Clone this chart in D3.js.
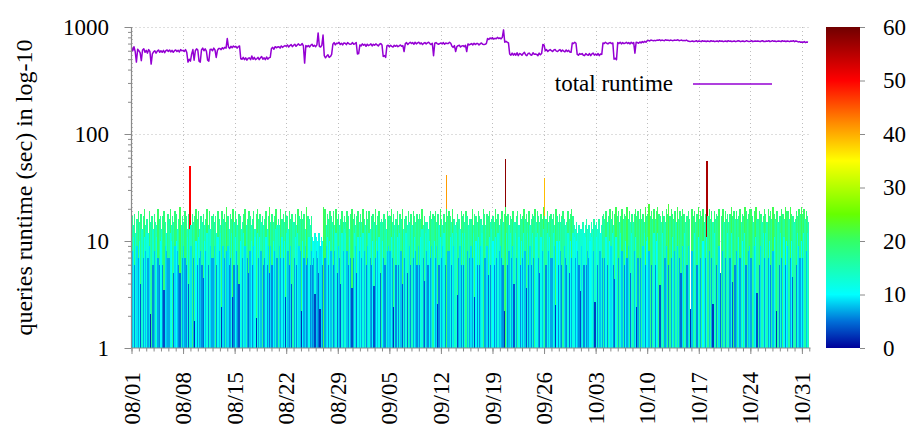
<!DOCTYPE html>
<html><head><meta charset="utf-8">
<script src="https://cdn.jsdelivr.net/npm/d3@7"></script>
<style>
body{margin:0;background:#fff}
svg{display:block}
</style>
</head><body>
<svg id="chart" width="908" height="429"></svg>
<script>
// ---------------- data (4-hourly runs, Aug 1 .. Oct 31) ----------------
const yearPrefix = "2017-";
const xTickLabels = ["08/01","08/08","08/15","08/22","08/29","09/05","09/12","09/19","09/26","10/03","10/10","10/17","10/24","10/31"];
const yTickValues = [1, 10, 100, 1000];
const colorTickValues = [0, 10, 20, 30, 40, 50, 60];
const paletteStops = [0, 5, 10, 20, 25, 35, 42, 50, 60];
const paletteColors = ["#00009a","#0070d8","#00ffff","#33ff66","#66ff00","#ffff00","#ff8c00","#ff0000","#700000"];
const legendLabel = "total runtime";
const yAxisTitle = "queries runtime (sec) in log-10";

// slowest query runtime of each run (sec)
const slowestAug = [
17,14,18,12,16,19, 15,18,13,17,20,14, 16,12,19,15,17,13, 18,15,14,20,16,17,
13,17,19,15,12,18, 16,20,14,17,15,19, 18,13,16,21,14,17, 15,19,17,13,18,50,
14,18,15,17,20,16, 19,13,17,15,18,14, 16,20,14,19,13,17, 18,15,17,12,19,16,
14,19,16,18,15,21, 17,13,18,16,20,15, 19,16,14,18,17,13, 15,18,20,14,16,19,
17,14,16,19,13,18, 20,16,18,15,17,14, 16,19,13,17,21,15, 18,15,17,20,14,16,
14,20,16,18,15,19, 17,13,19,16,18,15, 15,18,14,20,17,16, 19,16,18,13,21,17,
16,14,17,11,10,12, 11,10,12,9,11,10, 21,20,14,18,16,19, 17,15,19,14,20,16,
18,14,16,19,15,17, 15,19,17,13,18,20, 16,18,14,17,19,15];
const slowestSep = [
18,15,20,16,14,19, 16,19,13,17,18,15, 20,14,17,19,15,16, 15,18,16,13,19,17,
17,20,15,18,14,16, 19,14,18,16,20,13, 16,17,14,19,15,18, 14,19,17,15,18,16,
18,16,20,14,17,15, 15,13,17,19,16,18, 17,19,15,18,14,20, 16,14,18,15,41,17,
19,17,15,20,16,14, 15,18,16,13,19,17, 18,15,19,17,14,16, 16,20,14,18,17,15,
19,17,16,14,20,18, 14,18,17,19,15,16, 17,15,20,16,18,14, 16,19,15,18,58,17,
18,14,17,16,19,15, 15,17,19,14,18,16, 17,20,16,18,15,19, 14,16,18,17,20,15,
19,17,15,18,16,21, 39,16,19,15,17,18, 16,18,14,20,17,15, 18,15,17,19,16,14,
15,19,16,18,20,17, 14,13,15,12,14,13];
const slowestOct = [
13,15,12,14,16,13, 14,12,15,13,16,14, 15,13,16,12,14,17, 18,16,19,15,17,20,
16,19,14,18,21,17, 19,15,17,20,16,18, 17,21,16,19,15,18, 15,18,20,17,19,16,
20,16,18,15,21,17, 18,22,17,19,16,20, 16,19,21,18,17,15, 19,17,15,20,18,22,
17,20,18,16,19,15, 21,16,19,17,20,18, 18,15,17,19,16,2.3, 20,17,19,15,18,21,
16,19,17,20,15,18, 56,17,20,16,19,15, 19,16,18,17,20,5, 17,20,15,19,16,18,
15,18,21,17,19,16, 19,16,17,20,15,18, 17,21,19,16,18,20, 20,17,15,19,21,16,
16,19,18,15,17,20, 18,15,20,17,19,16, 21,18,16,19,15,17, 17,20,18,16,21,19,
19,16,21,18,17,15, 16,19,17,20,18,21, 18,20,16,19,17,15];

// runtime of the last query drawn for each run (sec)
const lastAug = [
8,11,6,12,9,7, 10,4,13,7,11,8, 12,7,9,2.1,17,6, 8,15,11,7,6,10,
11,6,3.5,9,8,7, 7,12,10,17,5,9, 10,8,6,5,14,7, 9,7,6,11,4,13,
9,18,7,1.8,10,6, 11,7,8,6,4.5,10, 8,12,6,13,9,7, 7,9,17,6,11,8,
12,2.4,9,7,15,8, 9,6,7,12,3,6, 11,8,6,4,10,13, 7,12,9,14,7,5,
8,10,6,9,11,1.9, 12,7,11,8,17,6, 7,11,6,9,5,9, 6,10,8,13,7,16,
9,7,11,7,10,3, 12,8,6,9,4,15, 7,11,6,12,9,8, 2.2,10,7,9,6,7,
11,6,8,6,7,3.2, 8,7,5,2.3,9,6, 21,7,9,11,6,10, 8,13,6,8,12,5,
9,7,4,12,8,13, 12,8,6,11,7,3.6, 7,12,9,5,11,8];
const lastSep = [
11,7,12,8,14,6, 9,12,7,6,10,3.8, 7,10,8,11,5,16, 10,7,6,13,8,9,
8,11,7,2.4,12,6, 11,6,12,8,4,13, 7,12,5,15,9,6, 14,7,11,8,6,9,
6,11,13,7,4.2,12, 8,6,10,7,9,16, 10,7,9,2.6,6,11, 7,9,12,6,20,8,
8,11,6,12,9,14, 12,3.1,7,9,6,12, 6,12,17,8,14,7, 9,7,12,3,10,6,
11,6,9,12,18,7, 7,9,4.8,11,6,13, 10,6,11,7,12,8, 9,7,6,2.2,21,12,
6,8,12,7,9,4, 12,7,16,11,6,10, 7,12,8,3.6,12,6, 9,6,12,7,17,11,
12,7,5,11,8,13, 17,6,12,8,11,7, 7,12,9,2.5,10,6, 10,8,6,16,9,7,
6,12,5,10,7,12, 11,7,10,8,6,3.4];
const lastOct = [
9,13,6,11,6,8, 7,10,11,13,8,2.7, 11,6,14,8,12,7, 16,7,11,6,15,10,
9,12,6,4.4,11,17, 7,15,12,8,16,6, 10,7,9,16,5,12, 15,8,11,2.4,7,16,
7,16,9,12,6,10, 11,8,17,6,16,12, 6,10,12,18,3.9,15, 12,17,7,9,18,6,
17,7,11,16,8,15, 9,16,7,5,9,18, 12,15,6,9,16,2.3, 8,17,12,15,6,11,
16,7,17,10,15,7, 11,17,8,16,7,2.6, 12,16,6,17,9,5, 17,8,15,7,16,12,
15,7,12,4.1,19,6, 8,16,11,7,15,10, 17,12,6,16,8,9, 7,17,15,9,11,3.3,
16,6,9,15,12,7, 12,15,7,10,6,16, 8,11,16,2.2,15,6, 12,7,18,11,6,10,
9,16,7,10,4.6,15, 16,6,12,9,7,10, 7,12,16,8,12,15];

// total runtime of each run (sec)
const totalAug = [
640,600,655,590,470,620, 600,575,485,610,625,580, 605,570,615,590,450,560, 585,600,570,595,610,580,
600,580,605,575,600,610, 590,610,585,605,580,600, 610,590,605,585,615,600, 605,590,615,580,470,500,
480,560,615,490,600,625, 610,480,470,610,635,600, 625,595,490,480,615,620, 600,635,610,520,605,630,
630,615,640,625,645,635, 780,650,630,660,640,665, 650,660,635,655,665,505, 500,520,495,515,490,510,
515,495,535,500,520,495, 505,520,495,515,530,500, 515,495,525,500,515,520, 630,645,620,655,640,650,
655,635,665,645,660,670, 660,680,650,670,685,655, 675,690,660,680,695,675, 680,700,665,460,670,655,
670,650,675,690,660,675, 655,680,880,660,650,675, 840,540,515,535,550,520, 530,555,690,715,680,705,
700,720,685,705,680,710, 705,685,715,700,690,695, 715,690,700,715,560,565];
const totalSep = [
680,665,695,675,690,660, 690,670,680,695,665,690, 675,695,680,665,690,700, 680,530,540,520,665,675,
655,675,660,650,675,660, 675,655,665,680,660,670, 590,700,715,685,705,720, 700,715,690,720,695,710,
720,695,710,685,705,715, 695,710,720,700,685,705, 540,705,715,700,690,700, 710,695,715,690,710,700,
700,720,705,660,645,670, 590,655,670,675,650,665, 670,655,675,590,695,680, 690,700,680,705,685,700,
700,680,695,710,690,685, 690,700,780,765,790,775, 795,770,785,775,800,780, 790,775,800,940,720,735,
720,710,560,545,570,545, 565,545,575,540,565,560, 545,565,580,550,540,565, 570,550,545,575,555,560,
555,540,570,550,565,685, 680,600,615,590,605,615, 600,590,610,615,595,590, 605,615,590,610,595,585,
610,590,605,585,580,710, 700,720,705,555,545,565];
const totalOct = [
555,565,545,540,565,550, 545,565,540,560,570,545, 560,545,565,540,560,555, 710,700,720,705,695,710,
715,700,710,500,510,495, 715,700,720,695,715,700, 705,720,700,715,695,720, 700,715,570,720,715,705,
725,710,730,715,735,720, 745,750,740,755,750,745, 750,745,755,750,760,745, 755,750,745,760,750,755,
745,755,750,745,755,750, 750,760,745,750,755,745, 750,745,755,740,735,730, 735,740,730,735,745,730,
740,735,730,745,735,740, 730,740,735,730,745,735, 740,730,735,740,730,745, 735,740,730,735,740,730,
745,735,740,730,735,740, 730,735,745,740,730,735, 740,730,735,745,735,730, 735,745,730,735,740,735,
740,735,730,740,745,730, 730,740,735,745,730,735, 745,735,740,730,735,740, 735,730,745,735,740,730,
740,735,730,740,735,745, 730,740,735,725,730,720, 725,720,730,715,725,720];

// ---------------- build ----------------
const FONT = "Liberation Serif";
const parse = d3.utcParse("%Y-%m/%d");
const t0 = parse(yearPrefix + "08/01");
const slotMs = 4 * 3600 * 1000;
const slowest = slowestAug.concat(slowestSep, slowestOct);
const last = lastAug.concat(lastSep, lastOct);
const total = totalAug.concat(totalSep, totalOct);
const slotTime = i => new Date(t0.getTime() + i * slotMs);

const plotL = 131.5, plotR = 810.5, plotT = 27, plotB = 348;
const svg = d3.select("#chart");

const x = d3.scaleUtc().domain([t0, new Date(parse(yearPrefix + "11/01").getTime() + slotMs)]).range([plotL, plotR]);
const y = d3.scaleLog().domain([1, 1000]).range([plotB, plotT]);
const color = d3.scaleLinear().domain(paletteStops).range(paletteColors).clamp(true);

const xTickDates = xTickLabels.map(s => parse(yearPrefix + s));
const dayTicks = d3.utcDay.range(t0, new Date(x.domain()[1].getTime() + 1));

// grid
const grid = svg.append("g").attr("stroke", "#bdbdbd").attr("stroke-width", 1).attr("stroke-dasharray", "1,3");
grid.selectAll("line.v").data(xTickDates).join("line")
  .attr("x1", d => Math.round(x(d)) + 0.5).attr("x2", d => Math.round(x(d)) + 0.5)
  .attr("y1", plotT).attr("y2", plotB);
grid.selectAll("line.h").data(yTickValues.slice(1)).join("line")
  .attr("x1", plotL).attr("x2", plotR)
  .attr("y1", d => Math.round(y(d)) + 0.5).attr("y2", d => Math.round(y(d)) + 0.5);

// bars (impulses): slowest query first, last query drawn over it
const bars = [];
slowest.forEach((v, i) => {
  bars.push({t: slotTime(i), v: v});
  bars.push({t: slotTime(i), v: last[i]});
});
svg.append("g").attr("shape-rendering", "crispEdges")
  .selectAll("rect").data(bars).join("rect")
  .attr("x", d => x(d.t))
  .attr("width", d => x(new Date(d.t.getTime() + slotMs)) - x(d.t) + 0.2)
  .attr("y", d => y(d.v))
  .attr("height", d => y(1) - y(d.v))
  .attr("fill", d => color(d.v));

// total runtime line
const lineData = total.map((v, i) => ({t: slotTime(i), v: v}));
svg.append("path").datum(lineData)
  .attr("fill", "none").attr("stroke", "#9400d3").attr("stroke-width", 1.5)
  .attr("stroke-linejoin", "round")
  .attr("d", d3.line().x(d => x(d.t)).y(d => y(d.v)));

// axes (ticks only; labels drawn as plain text below)
const axisColor = "#8a8a8a";
const yAxis = svg.append("g").attr("transform", `translate(${plotL},0)`)
  .call(d3.axisLeft(y).tickValues(yTickValues).tickSize(7).tickFormat(""));
const yMinor = [];
yTickValues.slice(0, -1).forEach(b => { for (let k = 2; k <= 9; k++) yMinor.push(b * k); });
svg.append("g").attr("transform", `translate(${plotL},0)`)
  .call(d3.axisLeft(y).tickValues(yMinor).tickSize(3.5).tickFormat(""))
  .call(g => g.select(".domain").remove());
svg.append("g").attr("transform", `translate(0,${plotB})`)
  .call(d3.axisBottom(x).tickValues(dayTicks).tickSize(3.5).tickFormat(""))
  .call(g => g.select(".domain").remove());
const xAxis = svg.append("g").attr("transform", `translate(0,${plotB})`)
  .call(d3.axisBottom(x).tickValues(xTickDates).tickSize(6).tickSizeOuter(0).tickFormat(""));
svg.selectAll(".domain").attr("stroke", axisColor).attr("stroke-width", 1.2);
svg.selectAll(".tick line").attr("stroke", axisColor);
yAxis.selectAll(".domain").attr("d", `M0,${plotT}V${plotB}`);
xAxis.selectAll(".domain").attr("d", `M${plotL},0H${plotR}`);

function label(sel, size) {
  return sel.attr("font-family", FONT).attr("font-size", size || 23).attr("fill", "#000");
}

// y tick labels
label(svg.append("g").selectAll("text").data(yTickValues).join("text")
  .attr("x", 109).attr("y", d => y(d)).attr("dy", "0.33em")
  .attr("text-anchor", "end").text(d => String(d)));

// rotated x labels
label(svg.append("g").selectAll("text").data(xTickDates).join("text")
  .attr("transform", d => `translate(${x(d)},372) rotate(-90)`)
  .attr("text-anchor", "end").attr("dy", "0.35em")
  .text((d, i) => xTickLabels[i]));

// y axis title
label(svg.append("text")
  .attr("transform", `translate(24,${(plotT + plotB) / 2}) rotate(-90)`)
  .attr("text-anchor", "middle").attr("dy", "0.35em")
  .text(yAxisTitle), 24);

// legend
label(svg.append("text").attr("x", 673).attr("y", 84).attr("dy", "0.32em")
  .attr("text-anchor", "end").text(legendLabel));
svg.append("line").attr("x1", 693).attr("x2", 772).attr("y1", 84).attr("y2", 84)
  .attr("stroke", "#9400d3").attr("stroke-width", 1.5);

// colorbar
const cb = d3.scaleLinear().domain([0, 60]).range([plotB, plotT]);
const defs = svg.append("defs");
const grad = defs.append("linearGradient").attr("id", "pal")
  .attr("x1", 0).attr("y1", 1).attr("x2", 0).attr("y2", 0);
grad.selectAll("stop").data(paletteStops).join("stop")
  .attr("offset", d => d / 60).attr("stop-color", (d, i) => paletteColors[i]);
svg.append("rect").attr("x", 826).attr("y", plotT).attr("width", 34).attr("height", plotB - plotT)
  .attr("fill", "url(#pal)");
const cbAxis = svg.append("g").attr("transform", "translate(860,0)")
  .call(d3.axisRight(cb).tickValues(colorTickValues).tickSize(5).tickFormat(""))
  .call(g => g.select(".domain").remove());
cbAxis.selectAll(".tick line").attr("stroke", axisColor);
label(svg.append("g").selectAll("text").data(colorTickValues).join("text")
  .attr("x", 883).attr("y", d => cb(d)).attr("dy", "0.33em")
  .text(d => String(d)));
</script>
</body></html>
